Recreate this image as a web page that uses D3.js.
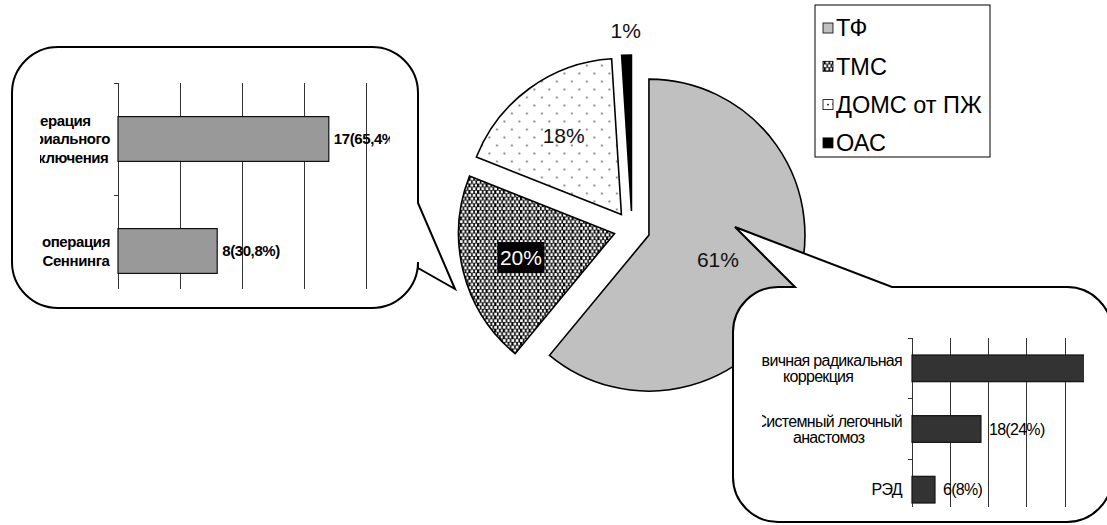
<!DOCTYPE html>
<html lang="ru">
<head>
<meta charset="utf-8">
<script src="https://cdn.jsdelivr.net/npm/d3@7"></script>
<style>
  html, body { margin: 0; padding: 0; background: #fff; }
  svg { display: block; }
  text { font-family: "Liberation Sans", Arial, sans-serif; }
</style>
</head>
<body>
<svg id="chart" width="1107" height="525"></svg>
<script>
// Distribution of diagnoses (pie)
const pieCategories = ["ТФ", "ТМС", "ДОМС от ПЖ", "ОАС"];
const pieShares = [61, 20, 18, 1];
const pieLabels = ["61%", "20%", "18%", "1%"];

// ТМС: operations
const tmsCategories = ["операция\nартериального\nпереключения", "операция\nСеннинга"];
const tmsValues = [17, 8];
const tmsLabels = ["17(65,4%)", "8(30,8%)"];

// ТФ: operations
const tofCategories = ["Первичная радикальная\nкоррекция", "Системный легочный\nанастомоз", "РЭД"];
const tofValues = [51, 18, 6];
const tofLabels = ["51(68%)", "18(24%)", "6(8%)"];

const svg = d3.select("#chart");
const defs = svg.append("defs");

// ---------- fill patterns ----------
const pChk = defs.append("pattern").attr("id", "pat-tms")
  .attr("patternUnits", "userSpaceOnUse").attr("width", 8.6).attr("height", 6.6);
pChk.append("rect").attr("width", 8.6).attr("height", 6.6).attr("fill", "#000");
[[0.1, 0.1], [4.4, 0.1], [2.25, 3.4], [6.55, 3.4]].forEach(([x, y]) =>
  pChk.append("rect").attr("x", x).attr("y", y).attr("width", 2.7).attr("height", 2.7).attr("fill", "#fff"));

const pDot = defs.append("pattern").attr("id", "pat-doms")
  .attr("patternUnits", "userSpaceOnUse").attr("width", 15).attr("height", 16);
pDot.append("rect").attr("width", 15).attr("height", 16).attr("fill", "#fff");
[[3, 3], [10.5, 11]].forEach(([x, y]) =>
  pDot.append("circle").attr("cx", x).attr("cy", y).attr("r", 0.85).attr("fill", "#222"));

const pieFills = ["#c0c0c0", "url(#pat-tms)", "url(#pat-doms)", "#000"];

// ---------- exploded pie ----------
const cx = 632, cy = 229, R = 156, explode = 18;
const labelRadius = [0.47, 0.62, 0.63, 1.16];

const arcs = d3.pie().sort(null).value(d => d)(pieShares);
const arcGen = d3.arc().innerRadius(0).outerRadius(R);

const pie = svg.append("g").attr("transform", `translate(${cx},${cy})`);
const slices = pie.selectAll("g.slice").data(arcs).join("g")
  .attr("class", "slice")
  .attr("transform", d => {
    const m = (d.startAngle + d.endAngle) / 2;
    return `translate(${Math.sin(m) * explode},${-Math.cos(m) * explode})`;
  });
slices.append("path")
  .attr("d", arcGen)
  .attr("fill", (d, i) => pieFills[i])
  .attr("stroke", "#000").attr("stroke-width", 1.6).attr("stroke-linejoin", "miter");

slices.each(function (d, i) {
  const g = d3.select(this);
  const m = (d.startAngle + d.endAngle) / 2;
  const lr = R * labelRadius[i];
  const x = Math.sin(m) * lr, y = -Math.cos(m) * lr;
  const dark = i === 1;
  if (dark) {
    g.append("rect").attr("x", x - 23.5).attr("y", y - 15.5)
      .attr("width", 47).attr("height", 31).attr("fill", "#000");
  }
  g.append("text").attr("x", x).attr("y", y).attr("dy", "0.36em")
    .attr("text-anchor", "middle").attr("font-size", 21)
    .attr("fill", dark ? "#fff" : "#111").text(pieLabels[i]);
});

// ---------- legend ----------
const legend = svg.append("g").attr("transform", "translate(815,5)");
legend.append("rect").attr("width", 175).attr("height", 152)
  .attr("fill", "#fff").attr("stroke", "#000").attr("stroke-width", 1);
pieCategories.forEach((c, i) => {
  const y = 23 + i * 38.3;
  legend.append("rect").attr("x", 8).attr("y", y - 5).attr("width", 10).attr("height", 10)
    .attr("fill", pieFills[i]).attr("stroke", "#000").attr("stroke-width", 0.8);
  if (i === 2) legend.append("circle").attr("cx", 13).attr("cy", y).attr("r", 0.9).attr("fill", "#000");
  legend.append("text").attr("x", 21).attr("y", y).attr("dy", "0.36em")
    .attr("font-size", 23.5).attr("fill", "#000").text(c);
});

// ---------- callout bubbles ----------
function bubblePath(x0, y0, x1, y1, r, tail) {
  const p = d3.path();
  p.moveTo(x0 + r, y0);
  if (tail && tail.edge === "top") {
    p.lineTo(tail.a[0], tail.a[1]); p.lineTo(tail.tip[0], tail.tip[1]); p.lineTo(tail.b[0], tail.b[1]);
  }
  p.lineTo(x1 - r, y0);
  p.arcTo(x1, y0, x1, y0 + r, r);
  if (tail && tail.edge === "right") {
    p.lineTo(tail.a[0], tail.a[1]); p.lineTo(tail.tip[0], tail.tip[1]); p.lineTo(tail.b[0], tail.b[1]);
  }
  p.lineTo(x1, y1 - r);
  p.arcTo(x1, y1, x1 - r, y1, r);
  p.lineTo(x0 + r, y1);
  p.arcTo(x0, y1, x0, y1 - r, r);
  p.lineTo(x0, y0 + r);
  p.arcTo(x0, y0, x0 + r, y0, r);
  p.closePath();
  return p.toString();
}

svg.append("path")
  .attr("d", bubblePath(12, 47, 418, 308, 46,
    { edge: "right", a: [418, 203], tip: [455, 289], b: [418, 268] }))
  .attr("fill", "#fff").attr("stroke", "#000").attr("stroke-width", 2).attr("stroke-linejoin", "miter");

svg.append("path")
  .attr("d", bubblePath(733, 287, 1112, 522, 45,
    { edge: "top", a: [795, 287], tip: [735, 227], b: [892, 287] }))
  .attr("fill", "#fff").attr("stroke", "#000").attr("stroke-width", 2).attr("stroke-linejoin", "miter");

// ---------- embedded horizontal bar charts ----------
function barChart(opt) {
  const [cx0, cy0, cx1, cy1] = opt.clip;
  defs.append("clipPath").attr("id", opt.id)
    .append("rect").attr("x", cx0).attr("y", cy0)
    .attr("width", cx1 - cx0).attr("height", cy1 - cy0);
  const g = svg.append("g").attr("clip-path", `url(#${opt.id})`);

  const x = d3.scaleLinear().domain([0, opt.max]).range([opt.x0, opt.x0 + opt.max * opt.unit]);
  const y = d3.scaleBand().domain(opt.categories).range([opt.y0, opt.y1])
    .paddingInner(opt.padIn).paddingOuter(opt.padOut);

  // vertical gridlines
  g.append("g").selectAll("line").data(d3.range(0, opt.max + 1, opt.step).filter(v => x(v) < cx1)).join("line")
    .attr("x1", d => x(d)).attr("x2", d => x(d))
    .attr("y1", opt.y0).attr("y2", opt.y1)
    .attr("stroke", "#333").attr("stroke-width", 1).attr("shape-rendering", "crispEdges");

  // category axis with outward ticks at band edges
  const edges = opt.categories.map(c => y(c) - y.step() * y.paddingInner() / 2);
  edges.push(opt.y1);
  const ax = g.append("g");
  ax.append("line").attr("x1", opt.x0).attr("x2", opt.x0).attr("y1", opt.y0).attr("y2", opt.y1)
    .attr("stroke", "#333").attr("shape-rendering", "crispEdges");
  ax.selectAll("line.tick").data([opt.y0].concat(edges.slice(1))).join("line")
    .attr("class", "tick")
    .attr("x1", opt.x0 - 4).attr("x2", opt.x0).attr("y1", d => d).attr("y2", d => d)
    .attr("stroke", "#333").attr("shape-rendering", "crispEdges");

  // bars
  g.append("g").selectAll("rect").data(opt.values).join("rect")
    .attr("x", x(0)).attr("y", (d, i) => y(opt.categories[i]))
    .attr("width", d => x(d) - x(0)).attr("height", y.bandwidth())
    .attr("fill", opt.fill).attr("stroke", "#111").attr("stroke-width", 1.2);

  // value labels (only those that start inside the visible plot window)
  const shown = opt.values.map((v, i) => ({ v, i })).filter(o => x(o.v) + opt.valGap < cx1);
  g.append("g").selectAll("text").data(shown).join("text")
    .attr("x", o => x(o.v) + opt.valGap).attr("y", o => y(opt.categories[o.i]) + y.bandwidth() / 2)
    .attr("dy", "0.36em").attr("font-size", opt.fontSize).attr("font-weight", opt.weight)
    .attr("letter-spacing", opt.spacing).attr("fill", "#000")
    .text(o => opt.labels[o.i]);

  // category labels: wrapped lines centred within a block right-aligned to the axis
  opt.categories.forEach(c => {
    const lines = c.split("\n");
    const t = g.append("text").attr("font-size", opt.fontSize).attr("font-weight", opt.weight)
      .attr("letter-spacing", opt.spacing).attr("fill", "#000").attr("text-anchor", "middle");
    const cyc = y(c) + y.bandwidth() / 2;
    const spans = lines.map((ln, k) => t.append("tspan")
      .attr("y", cyc + (k - (lines.length - 1) / 2) * opt.lineH)
      .attr("dy", "0.36em").text(ln));
    const w = d3.max(spans, s => s.node().getComputedTextLength());
    const center = opt.x0 - opt.gap - w / 2;
    spans.forEach(s => s.attr("x", center));
  });
}

barChart({
  id: "clip-tms", clip: [40, 70, 390, 289],
  categories: tmsCategories, values: tmsValues, labels: tmsLabels,
  x0: 118, unit: 12.4, max: 30, step: 5,
  y0: 83, y1: 307, padIn: 0.6, padOut: 0.3,
  fill: "#999999", fontSize: 15, weight: "bold", spacing: -0.4, lineH: 18.5, gap: 8, valGap: 5
});

barChart({
  id: "clip-tof", clip: [762, 330, 1084, 507],
  categories: tofCategories, values: tofValues, labels: tofLabels,
  x0: 912, unit: 3.83, max: 60, step: 10,
  y0: 338, y1: 520, padIn: 0.56, padOut: 0.28,
  fill: "#333333", fontSize: 16, weight: "normal", spacing: -0.7, lineH: 16.5, gap: 10, valGap: 8
});
</script>
</body>
</html>
